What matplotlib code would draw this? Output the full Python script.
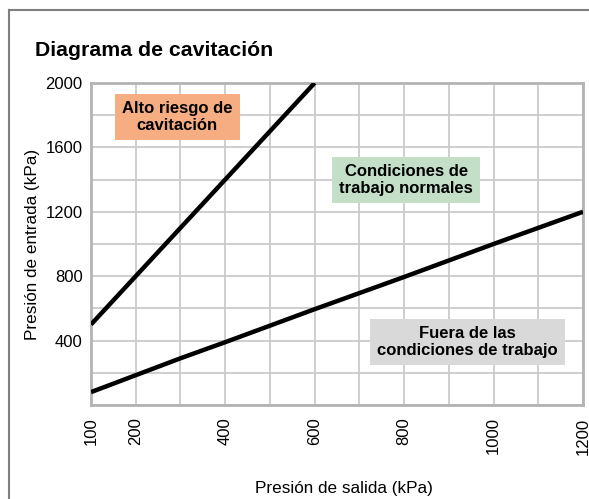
#diagrama de cavitacion
#two limit lines on a grid, three labelled zones

import matplotlib
matplotlib.use("Agg")
import matplotlib.pyplot as plt
from matplotlib.lines import Line2D
from matplotlib.ticker import MultipleLocator

plt.rcParams['font.family'] = ['Liberation Sans', 'DejaVu Sans']

#the data
upperX = [100, 200, 300, 400, 500, 600]
upperY = [500, 800, 1100, 1400, 1700, 2000]
lowerX = [100, 200, 300, 400, 600, 800, 1000, 1200]
lowerY = [80, 185, 290, 390, 595, 795, 1000, 1200]

xTicks = [100, 200, 400, 600, 800, 1000, 1200]
yTicks = [400, 800, 1200, 1600, 2000]

zoneTexts = ["Alto riesgo de\ncavitación",
             "Condiciones de\ntrabajo normales",
             "Fuera de las\ncondiciones de trabajo"]
zoneX = [293, 805, 942]
zoneY = [1789, 1397, 391]
zoneColors = ["#f7ad82", "#c3dfc7", "#d9d9d9"]

fig = plt.figure(figsize=(5.89, 4.99), dpi=100)
ax = fig.add_axes([0.1545, 0.1884, 0.8353, 0.6453])

ax.plot(upperX, upperY, color="black", lw=3.2, solid_capstyle="butt", zorder=3)
ax.plot(lowerX, lowerY, color="black", lw=3.2, solid_capstyle="butt", zorder=3)

ax.set_xlim(100, 1200)
ax.set_ylim(0, 2000)
ax.set_xticks(xTicks)
ax.set_yticks(yTicks)
ax.xaxis.set_minor_locator(MultipleLocator(100))
ax.yaxis.set_minor_locator(MultipleLocator(200))
ax.grid(which="both", color="#cacaca", lw=1.3, zorder=0)
ax.set_axisbelow(True)
ax.tick_params(which="both", length=0)
ax.tick_params(axis="x", labelrotation=90, labelsize=12, pad=9)
ax.tick_params(axis="y", labelsize=12, pad=6)
for lab in ax.get_xticklabels():
    lab.set_verticalalignment("top")
for s in ax.spines.values():
    s.set_color("#b3b3b3")
    s.set_linewidth(2)

ax.set_xlabel("Presión de salida (kPa)", fontsize=12.3, labelpad=17)
ax.xaxis.set_label_coords(0.514, -0.235)
ax.set_ylabel("Presión de entrada (kPa)", fontsize=12.3, labelpad=4)

for i in range(len(zoneTexts)):
    ax.text(zoneX[i], zoneY[i], zoneTexts[i], ha="center", va="center",
            fontsize=12, fontweight="bold", zorder=4,
            bbox=dict(boxstyle="square,pad=0.42", fc=zoneColors[i], ec="none"))

fig.text(0.059, 0.898, "Diagrama de cavitación", fontsize=15.3, fontweight="bold",
         va="center", ha="left")

#outer frame, only top and left show
fig.add_artist(Line2D([0.015, 0.015], [0.98, 0.0], color="#7f7f7f", lw=1.5))
fig.add_artist(Line2D([0.015, 1.0], [0.98, 0.98], color="#7f7f7f", lw=1.5))

fig.savefig("out.png", dpi=100)
